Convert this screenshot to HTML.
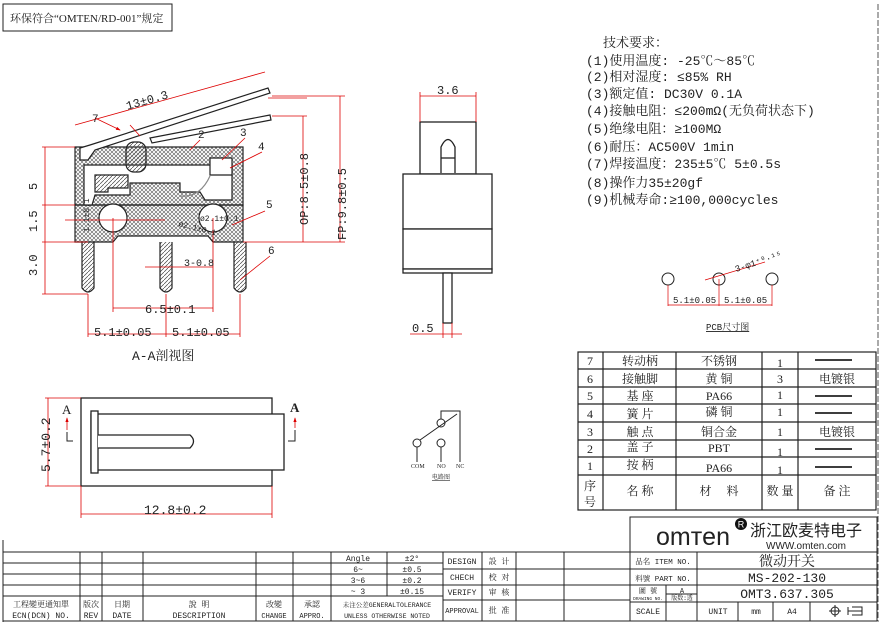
<!DOCTYPE html>
<html><head><meta charset="utf-8"><style>
html,body{margin:0;padding:0;background:#fff}
svg{display:block}
text{font-family:"Liberation Serif","Noto Serif CJK SC",serif;fill:#222}
text.s,.s text{font-family:"Liberation Mono","Noto Serif CJK SC",monospace}
</style></head><body>
<svg width="883" height="627" viewBox="0 0 883 627" xmlns="http://www.w3.org/2000/svg">
<defs>
<pattern id="h" width="4" height="4" patternUnits="userSpaceOnUse">
<path d="M0 0L4 4M4 0L0 4" stroke="#555" stroke-width="0.6"/></pattern>
<pattern id="d" width="4" height="4" patternUnits="userSpaceOnUse">
<path d="M0 4L4 0" stroke="#444" stroke-width="0.7"/></pattern>
<marker id="a" markerWidth="6" markerHeight="6" refX="5" refY="3" orient="auto"><path d="M0 1L6 3L0 5z" fill="#d00"/></marker>
</defs>
<rect x="3" y="4" width="169" height="27" fill="none" stroke="#222"/>
<text x="10" y="22" font-size="11">环保符合“OMTEN/RD-001”规定</text>
<line x1="878" y1="4" x2="878" y2="622" stroke="#555" stroke-dasharray="6 2"/>
<line x1="3" y1="540" x2="3" y2="622" stroke="#222"/>

<g font-size="13" class="s">
<text x="603" y="47">技术要求：</text>
<text x="586" y="65">(1)使用温度: -25℃～85℃</text>
<text x="586" y="81">(2)相对湿度: ≤85% RH</text>
<text x="586" y="98">(3)额定值: DC30V 0.1A</text>
<text x="586" y="115">(4)接触电阻：≤200mΩ(无负荷状态下)</text>
<text x="586" y="133">(5)绝缘电阻：≥100MΩ</text>
<text x="586" y="151">(6)耐压：AC500V 1min</text>
<text x="586" y="168">(7)焊接温度：235±5℃ 5±0.5s</text>
<text x="586" y="187">(8)操作力35±20gf</text>
<text x="586" y="204">(9)机械寿命:≥100,000cycles</text>
</g>

<g stroke="#222" stroke-width="1.2">
<path d="M75 147H243V205H75Z" fill="url(#h)"/>
<path d="M75 205H243V242H213L208 236H118L113 242H75Z" fill="url(#h)"/>
<path d="M84 165H232V200H205L200 192H180V183H130V195H95L92 205H84Z" fill="#fff"/>
<path d="M95 175H128V188H108V192H95Z" fill="url(#d)"/>
<path d="M210 158H232V175H210Z" fill="#fff"/>
<path d="M180 196 Q200 198 210 176" fill="none" stroke="#888"/>
<rect x="126" y="142" width="20" height="30" rx="8" fill="url(#d)"/>
<circle cx="113" cy="218" r="14" fill="#fff"/>
<circle cx="213" cy="218" r="14" fill="#fff"/>
<path d="M82 242V288Q88 296 94 288V242" fill="url(#d)"/>
<path d="M160 242V288Q166 296 172 288V242" fill="url(#d)"/>
<path d="M234 242V288Q240 296 246 288V242" fill="url(#d)"/>
<path d="M80 160V148L90 145L268 88L270 93L95 150L88 160Z" fill="#fff"/>
<path d="M150 138L270 115L271 120L152 143Z" fill="#fff"/>
</g>
<g stroke="#d00" stroke-width="0.8" fill="none">
<line x1="42" y1="147" x2="75" y2="147"/><line x1="42" y1="205" x2="75" y2="205"/>
<line x1="42" y1="242" x2="88" y2="242"/><line x1="42" y1="294" x2="88" y2="294"/>
<line x1="45" y1="147" x2="45" y2="294"/>
<line x1="243" y1="242" x2="345" y2="242"/>
<line x1="268" y1="98" x2="307" y2="98"/><line x1="272" y1="116" x2="307" y2="116"/>
<line x1="303" y1="116" x2="303" y2="242"/>
<line x1="272" y1="96" x2="345" y2="96"/><line x1="340" y1="96" x2="340" y2="242"/>
<line x1="75" y1="125" x2="265" y2="72"/>
<line x1="113" y1="218" x2="113" y2="312"/><line x1="213" y1="218" x2="213" y2="312"/>
<line x1="113" y1="308" x2="213" y2="308"/>
<line x1="88" y1="294" x2="88" y2="337"/><line x1="166" y1="294" x2="166" y2="337"/><line x1="240" y1="294" x2="240" y2="337"/>
<line x1="88" y1="334" x2="240" y2="334"/>
<line x1="145" y1="267" x2="213" y2="267"/>
<line x1="65" y1="220" x2="165" y2="220"/>
<line x1="95" y1="118" x2="120" y2="130" marker-end="url(#a)"/>
<line x1="130" y1="125" x2="140" y2="136"/>
<line x1="200" y1="140" x2="190" y2="150"/>
<line x1="245" y1="138" x2="222" y2="160"/>
<line x1="262" y1="152" x2="230" y2="168"/>
<line x1="265" y1="211" x2="232" y2="225"/>
<line x1="270" y1="256" x2="240" y2="280"/>
</g>
<g font-size="11" fill="#222" class="s">
<text x="125" y="106" transform="rotate(-16 140 100)" font-size="12">13±0.3</text>
<text x="92" y="122">7</text><text x="198" y="138">2</text><text x="240" y="136">3</text>
<text x="258" y="150">4</text><text x="266" y="208">5</text><text x="268" y="254">6</text>
<text x="178" y="226" font-size="8" transform="rotate(14 178 226)">ø2.1±0.1</text>
<text x="200" y="221" font-size="8">ø2.1±0.1</text>
<text x="184" y="266" font-size="10">3-0.8</text>
<text x="145" y="313" font-size="12">6.5±0.1</text>
<text x="94" y="336" font-size="12">5.1±0.05</text>
<text x="172" y="336" font-size="12">5.1±0.05</text>
<text x="132" y="360" font-size="13">A-A剖视图</text>
<text transform="translate(37 190) rotate(-90)" font-size="12">5</text>
<text transform="translate(37 232) rotate(-90)" font-size="12">1.5</text>
<text transform="translate(37 276) rotate(-90)" font-size="12">3.0</text>
<text transform="translate(89 232) rotate(-90)" font-size="8">1.1±0.1</text>
<text transform="translate(308 225) rotate(-90)" font-size="12">OP:8.5±0.8</text>
<text transform="translate(346 240) rotate(-90)" font-size="12">FP:9.8±0.5</text>
</g>

<g stroke="#222" stroke-width="1.3" fill="#fff">
<rect x="420" y="122" width="56" height="52"/>
<path d="M441 173V147Q448 132 455 147V173"/>
<line x1="441" y1="158" x2="455" y2="158"/>
<rect x="403" y="174" width="89" height="55"/>
<rect x="403" y="229" width="89" height="40"/>
<rect x="403" y="269" width="89" height="4"/>
<rect x="443" y="273" width="9" height="50"/>
</g>
<g stroke="#d00" stroke-width="0.8" fill="none">
<line x1="420" y1="92" x2="420" y2="122"/><line x1="476" y1="92" x2="476" y2="122"/>
<line x1="420" y1="96" x2="476" y2="96"/>
<line x1="443" y1="323" x2="443" y2="338"/><line x1="452" y1="323" x2="452" y2="338"/>
<line x1="410" y1="334" x2="462" y2="334"/>
</g>
<text x="437" y="94" font-size="12" class="s">3.6</text>
<text x="412" y="332" font-size="12" class="s">0.5</text>

<g stroke="#222" fill="none"><circle cx="668" cy="279" r="6"/><circle cx="719" cy="279" r="6"/><circle cx="772" cy="279" r="6"/></g>
<g stroke="#d00" stroke-width="0.7" fill="none">
<line x1="668" y1="285" x2="668" y2="306"/><line x1="719" y1="279" x2="719" y2="306"/><line x1="772" y1="285" x2="772" y2="306"/>
<line x1="668" y1="305" x2="772" y2="305"/><line x1="705" y1="280" x2="765" y2="262"/>
</g>
<g font-size="9" class="s"><text x="673" y="303">5.1±0.05</text><text x="724" y="303">5.1±0.05</text>
<text x="736" y="272" transform="rotate(-18 736 272)">3-φ1⁺⁰·¹⁵</text>
<text x="706" y="330" text-decoration="underline">PCB尺寸图</text></g>

<g stroke="#222" stroke-width="1.2" fill="none">
<rect x="578" y="352" width="298" height="158"/>
<line x1="603" y1="352" x2="603" y2="510"/><line x1="676" y1="352" x2="676" y2="510"/>
<line x1="762" y1="352" x2="762" y2="510"/><line x1="798" y1="352" x2="798" y2="510"/>
<line x1="578" y1="369" x2="876" y2="369"/><line x1="578" y1="387" x2="876" y2="387"/>
<line x1="578" y1="404" x2="876" y2="404"/><line x1="578" y1="422" x2="876" y2="422"/>
<line x1="578" y1="440" x2="876" y2="440"/><line x1="578" y1="457" x2="876" y2="457"/>
<line x1="578" y1="475" x2="876" y2="475"/>
<g stroke-width="1.8"><line x1="815" y1="360" x2="852" y2="360"/><line x1="815" y1="396" x2="852" y2="396"/>
<line x1="815" y1="413" x2="852" y2="413"/><line x1="815" y1="449" x2="852" y2="449"/><line x1="815" y1="467" x2="852" y2="467"/></g>
</g>
<g font-size="12" text-anchor="middle">
<text x="590" y="365">7</text><text x="640" y="365">转动柄</text><text x="719" y="365">不锈钢</text><text x="780" y="367">1</text>
<text x="590" y="383">6</text><text x="640" y="383">接触脚</text><text x="719" y="383">黄 铜</text><text x="780" y="383">3</text><text x="837" y="383">电镀银</text>
<text x="590" y="400">5</text><text x="640" y="400">基 座</text><text x="719" y="400">PA66</text><text x="780" y="399">1</text>
<text x="590" y="418">4</text><text x="640" y="418">簧 片</text><text x="719" y="416">磷 铜</text><text x="780" y="416">1</text>
<text x="590" y="436">3</text><text x="640" y="436">触 点</text><text x="719" y="436">铜合金</text><text x="780" y="436">1</text><text x="837" y="436">电镀银</text>
<text x="590" y="453">2</text><text x="640" y="451">盖 子</text><text x="719" y="452">PBT</text><text x="780" y="456">1</text>
<text x="590" y="470">1</text><text x="640" y="469">按 柄</text><text x="719" y="472">PA66</text><text x="780" y="474">1</text>
<text x="590" y="490">序</text><text x="590" y="506">号</text><text x="640" y="495">名 称</text><text x="719" y="495">材　 料</text>
<text x="780" y="495">数 量</text><text x="837" y="495">备 注</text>
</g>

<g stroke="#222" stroke-width="1.3" fill="#fff">
<rect x="81" y="398" width="191" height="88"/>
<rect x="91" y="414" width="193" height="56"/>
<rect x="91" y="411" width="7" height="62"/>
<path d="M98 435H190Q197 441 190 448H98"/>
</g>
<g stroke="#d00" stroke-width="0.8" fill="none">
<line x1="45" y1="398" x2="81" y2="398"/><line x1="45" y1="486" x2="81" y2="486"/><line x1="48" y1="398" x2="48" y2="486"/>
<line x1="81" y1="486" x2="81" y2="518"/><line x1="272" y1="486" x2="272" y2="518"/><line x1="81" y1="514" x2="272" y2="514"/>
<line x1="67" y1="430" x2="67" y2="418" marker-end="url(#a)"/><line x1="295" y1="428" x2="295" y2="418" marker-end="url(#a)"/>
</g>
<path d="M67 432V441H73M295 430V441H288" stroke="#222" fill="none"/>
<text x="62" y="414" font-size="13">A</text><text x="290" y="412" font-size="13" font-weight="bold">A</text>
<text transform="translate(50 472) rotate(-90)" font-size="13" class="s">5.7±0.2</text>
<text x="144" y="514" font-size="13" class="s">12.8±0.2</text>

<g stroke="#222" fill="#fff">
<circle cx="417" cy="443" r="4"/><circle cx="441" cy="443" r="4"/><circle cx="441" cy="423" r="4"/>
<path d="M417 447V462M441 447V462M441 419V411H460V462M420 440L457 414" fill="none"/>
</g>
<g font-size="6"><text x="411" y="468">COM</text><text x="437" y="468">NO</text><text x="456" y="468">NC</text>
<text x="432" y="479" text-decoration="underline">电路图</text></g>

<g stroke="#222" stroke-width="1" fill="none">
<rect x="630" y="517" width="247" height="35"/>
<line x1="3" y1="552" x2="877" y2="552"/>
<line x1="3" y1="621" x2="877" y2="621"/>
<line x1="3" y1="563" x2="443" y2="563"/><line x1="3" y1="574" x2="443" y2="574"/><line x1="3" y1="585" x2="443" y2="585"/><line x1="3" y1="596" x2="443" y2="596"/>
<line x1="80" y1="552" x2="80" y2="621"/><line x1="102" y1="552" x2="102" y2="621"/><line x1="143" y1="552" x2="143" y2="621"/>
<line x1="256" y1="552" x2="256" y2="621"/><line x1="293" y1="552" x2="293" y2="621"/><line x1="331" y1="552" x2="331" y2="621"/>
<line x1="387" y1="552" x2="387" y2="596"/><line x1="443" y1="552" x2="443" y2="621"/>
<line x1="443" y1="569" x2="630" y2="569"/><line x1="443" y1="585" x2="630" y2="585"/><line x1="443" y1="600" x2="630" y2="600"/>
<line x1="482" y1="552" x2="482" y2="621"/><line x1="516" y1="552" x2="516" y2="621"/><line x1="564" y1="552" x2="564" y2="621"/>
<line x1="630" y1="552" x2="630" y2="621"/>
<line x1="630" y1="569" x2="877" y2="569"/><line x1="630" y1="585" x2="877" y2="585"/><line x1="630" y1="602" x2="877" y2="602"/>
<line x1="697" y1="552" x2="697" y2="621"/><line x1="666" y1="585" x2="666" y2="621"/><line x1="666" y1="594" x2="697" y2="594"/>
<line x1="738" y1="602" x2="738" y2="621"/><line x1="773" y1="602" x2="773" y2="621"/><line x1="810" y1="602" x2="810" y2="621"/>
<line x1="877" y1="517" x2="877" y2="621"/>
</g>
<g font-size="8" class="s" text-anchor="middle">
<text x="358" y="561">Angle</text><text x="412" y="561">±2°</text>
<text x="358" y="572">6~</text><text x="412" y="572">±0.5</text>
<text x="358" y="583">3~6</text><text x="412" y="583">±0.2</text>
<text x="358" y="594">~ 3</text><text x="412" y="594">±0.15</text>
<text x="41" y="607">工程變更通知單</text><text x="41" y="618">ECN(DCN) NO.</text>
<text x="91" y="607">版次</text><text x="91" y="618">REV</text>
<text x="122" y="607">日期</text><text x="122" y="618">DATE</text>
<text x="199" y="607">說 明</text><text x="199" y="618">DESCRIPTION</text>
<text x="274" y="607">改變</text><text x="274" y="618" font-size="7">CHANGE</text>
<text x="312" y="607">承認</text><text x="312" y="618" font-size="7">APPRO.</text>
<text x="387" y="607" font-size="6.5">未注公差GENERALTOLERANCE</text><text x="387" y="618" font-size="6.5">UNLESS OTHERWISE NOTED</text>
<text x="462" y="564">DESIGN</text><text x="499" y="564">設 计</text>
<text x="462" y="580">CHECH</text><text x="499" y="580">校 对</text>
<text x="462" y="595">VERIFY</text><text x="499" y="595">审 核</text>
<text x="462" y="613" font-size="7">APPROVAL</text><text x="499" y="613">批 准</text>
<text x="663" y="564" font-size="7.5">品名 ITEM NO.</text><text x="663" y="581" font-size="7.5">料號 PART NO.</text>
<text x="648" y="593" font-size="7">圖 號</text><text x="648" y="600" font-size="4.5">DRAWING NO.</text>
<text x="682" y="593" font-size="7">A</text><text x="682" y="600" font-size="6">版数:透</text>
<text x="648" y="614">SCALE</text><text x="718" y="614">UNIT</text><text x="756" y="614">mm</text><text x="792" y="614">A4</text>
</g>
<g font-size="14" text-anchor="middle" class="s">
<text x="787" y="566">微动开关</text><text x="787" y="582" font-size="13">MS-202-130</text><text x="787" y="598" font-size="13">OMT3.637.305</text>
</g>
<text x="656" y="545" font-size="25" style="font-family:'Liberation Sans',sans-serif">omтen</text>
<circle cx="741" cy="524" r="6" fill="#111"/><text x="741" y="527.5" font-size="9" text-anchor="middle" style="fill:#fff;font-family:'Liberation Sans',sans-serif">R</text>
<text x="750" y="536" font-size="16" style="font-family:'Liberation Sans','Noto Sans CJK SC',sans-serif">浙江欧麦特电子</text>
<text x="766" y="549" font-size="10" style="font-family:'Liberation Sans',sans-serif">WWW.omten.com</text>
<g stroke="#222" fill="none"><circle cx="835" cy="611" r="4"/><line x1="829" y1="611" x2="841" y2="611"/><line x1="835" y1="605" x2="835" y2="617"/>
<path d="M848 607V615M848 611H862M852 607H862V615H852"/></g>
</svg>
</body></html>
